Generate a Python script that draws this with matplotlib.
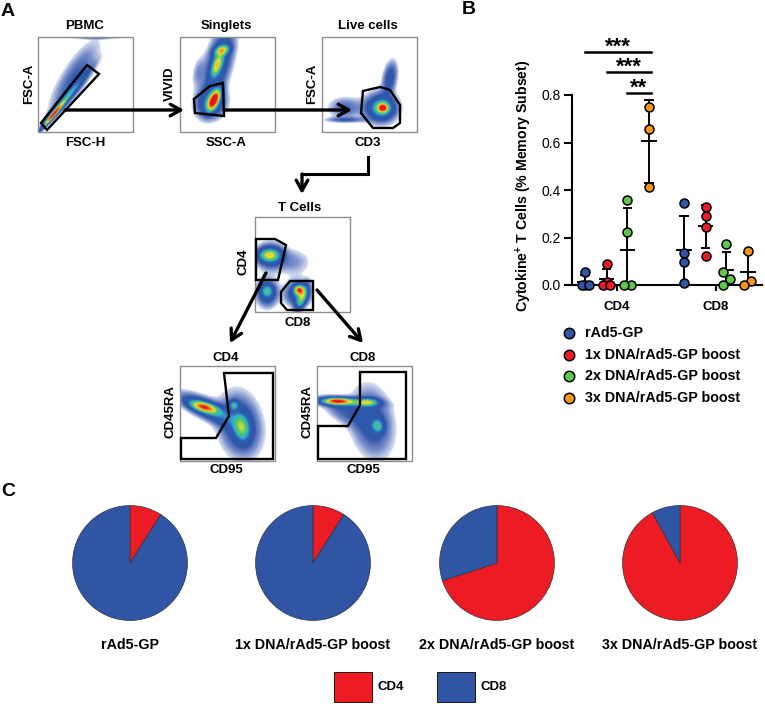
import numpy as np
import matplotlib
matplotlib.use('Agg')
import matplotlib.pyplot as plt
from matplotlib.colors import LinearSegmentedColormap
from matplotlib.patches import Polygon, Rectangle

plt.rcParams['font.family'] = ['Liberation Sans', 'DejaVu Sans']
plt.rcParams['mathtext.fontset'] = 'custom'
plt.rcParams['mathtext.bf'] = 'Liberation Sans:bold'
plt.rcParams['mathtext.rm'] = 'Liberation Sans'

W, H = 765, 704

# panel B
groups = ['rAd5-GP', '1x DNA/rAd5-GP boost', '2x DNA/rAd5-GP boost', '3x DNA/rAd5-GP boost']
group_colors = ['#2f55a4', '#ed1c24', '#5fc74a', '#f7941d']
subsets = ['CD4', 'CD8']
cd4_values = [[0.055, 0, 0, 0], [0.088, 0.012, 0, 0], [0.36, 0.224, 0, 0], [0.75, 0.655, 0.412]]
cd8_values = [[0.345, 0.133, 0.098, 0.008], [0.33, 0.29, 0.243, 0.122], [0.172, 0.053, 0.025, 0.0], [0.143, 0.018, 0.0]]
cd4_means = [0.014, 0.027, 0.147, 0.605]
cd8_means = [0.147, 0.247, 0.063, 0.053]
cd4_sds = [0.027, 0.042, 0.178, 0.175]
cd8_sds = [0.143, 0.09, 0.077, 0.08]
sig_labels = ['***', '***', '**']
sig_from = [0, 1, 2]
sig_heights = [0.981, 0.897, 0.808]

# panel C
cd4_share = [0.09, 0.09, 0.70, 0.92]
pie_colors = ['#ed1c24', '#2f55a4']

# panel A, gates in page pixels
gate_pbmc = [(41, 123), (87, 65), (99, 74), (47, 130)]
gate_singlets = [(194, 99), (210, 86), (223, 83), (224, 116), (195, 113)]
gate_live = [(363, 91), (380, 87), (390, 90), (400, 105), (400, 123), (393, 128), (373, 128), (361, 113)]
gate_cd4 = [(256, 239), (275, 239), (286, 245), (278, 280), (256, 280)]
gate_cd8 = [(281, 292), (290, 281), (313, 281), (313, 310), (287, 310), (281, 303)]
gate_sub4 = [(181, 438), (216, 438), (229, 416), (224, 373), (273, 373), (273, 459), (181, 459)]
gate_sub8 = [(318, 426), (348, 426), (360, 405), (360, 372), (406, 372), (406, 459), (318, 459)]

# boxes: x0, y0, populations (cx, cy, sx, sy, angle, peak)
pop_pbmc = [(53, 115, 11, 1.3, -50, 0.9), (68, 96, 22, 2.6, -50, 0.3), (74, 78, 27, 8, -58, 0.16), (95, 38, 20, 0.8, 0, 0.08)]
pop_singlets = [(222, 50, 5, 3, -20, 0.5), (217, 65, 8, 3, -70, 0.46), (219, 62, 24, 8, -75, 0.3),
                (214, 100, 7, 3, -65, 0.95), (211, 103, 10, 9, -60, 0.32), (198, 72, 10, 4, -80, 0.08)]
pop_live = [(383, 108, 3, 2.5, 0, 0.7), (382, 108, 7, 6, 0, 0.32), (381, 108, 11, 10, 0, 0.27), (345, 108, 11, 7, 0, 0.14),
            (345, 120, 13, 1.8, 0, 0.14), (390, 78, 11, 4.5, -80, 0.22)]
pop_tcells = [(269, 255, 7, 4, 0, 0.42), (270, 256, 9, 8, 0, 0.3), (267, 291, 4, 4, 0, 0.24), (267, 293, 7, 9, 0, 0.27),
              (299, 290, 3, 3, 0, 0.7), (302, 298, 9, 3, -70, 0.4), (298, 294, 8, 8, 0, 0.3), (293, 262, 12, 9, 0, 0.09)]
pop_sub4 = [(204, 407, 9, 3, 15, 0.65), (207, 409, 19, 6, 25, 0.36), (234, 405, 3, 3, 0, 0.32), (242, 428, 9, 5, 80, 0.33),
            (240, 425, 20, 13, 80, 0.27)]
pop_sub8 = [(337, 401, 9, 2, 0, 0.65), (345, 402, 18, 3, 3, 0.4), (368, 402, 7, 2.5, 0, 0.4), (378, 426, 5, 4, 80, 0.3),
            (372, 422, 22, 13, 80, 0.22), (342, 411, 15, 7, 30, 0.13)]

flow_boxes = [(38, 37, pop_pbmc), (180, 37, pop_singlets), (322, 37, pop_live), (255, 217, pop_tcells),
              (180, 366, pop_sub4), (317, 366, pop_sub8)]
gates = [gate_pbmc, gate_singlets, gate_live, gate_cd4, gate_cd8, gate_sub4, gate_sub8]

flow_cmap = LinearSegmentedColormap.from_list('flow', [
    (0.0, '#d5dcef'), (0.05, '#7a90cb'), (0.13, '#2f55a8'), (0.28, '#2f5fb0'), (0.38, '#2fb4d8'), (0.5, '#53c45a'),
    (0.66, '#e8e63c'), (0.82, '#f58a1f'), (1.0, '#e8141c')])
flow_cmap.set_under('white')

fig = plt.figure(figsize=(W / 100, H / 100), dpi=100)
page = fig.add_axes([0, 0, 1, 1])


def density(pops, x0, y0):
    xs, ys = np.meshgrid(np.linspace(x0, x0 + 95, 190), np.linspace(y0, y0 + 95, 190))
    z = np.zeros_like(xs)
    for cx, cy, sx, sy, ang, peak in pops:
        a = np.deg2rad(ang)
        u = (xs - cx) * np.cos(a) + (ys - cy) * np.sin(a)
        v = -(xs - cx) * np.sin(a) + (ys - cy) * np.cos(a)
        z += peak * np.exp(-0.5 * ((u / sx) ** 2 + (v / sy) ** 2))
    return z


for x0, y0, pops in flow_boxes:
    page.imshow(density(pops, x0, y0), extent=(x0, x0 + 95, y0 + 95, y0), cmap=flow_cmap,
                vmin=0.04, vmax=1.0, aspect='auto', interpolation='bilinear', zorder=1)
    page.add_patch(Rectangle((x0, y0), 95, 95, fill=False, ec='#8c8c8c', lw=1, zorder=2))

for g in gates:
    page.add_patch(Polygon(g, closed=True, fill=False, ec='black', lw=1.7, zorder=3))


def arrow(x1, y1, x2, y2):
    page.annotate('', xy=(x2, y2), xytext=(x1, y1), zorder=4,
                  arrowprops=dict(arrowstyle='->,head_length=0.75,head_width=0.42', lw=2.4, color='black',
                                  shrinkA=0, shrinkB=0))


arrow(65, 110, 184, 110)
arrow(224, 110, 352, 110)
page.plot([368, 368, 302], [157, 174, 174], color='black', lw=2.2, solid_joinstyle='miter', zorder=4)
arrow(302, 174, 302, 194)
arrow(266, 273, 230, 343)
arrow(317, 290, 363, 343)


def label(x, y, s, size=9.5, rot=0):
    page.text(x, y, s, fontsize=size, fontweight='bold', rotation=rot, ha='center', va='center')


for x, y, s in [(85, 26, 'PBMC'), (226, 26, 'Singlets'), (368, 26, 'Live cells'), (85, 143, 'FSC-H'), (226, 143, 'SSC-A'),
                (368, 143, 'CD3'), (300, 208, 'T Cells'), (298, 323, 'CD8'), (226, 358, 'CD4'), (363, 358, 'CD8'),
                (226, 470, 'CD95'), (363, 470, 'CD95')]:
    label(x, y, s)
for x, y, s in [(29, 84, 'FSC-A'), (170, 84, 'VIVID'), (312, 84, 'FSC-A'), (244, 262, 'CD4'), (171, 412, 'CD45RA'), (308, 412, 'CD45RA')]:
    label(x, y, s, rot=90)
label(8, 12, 'A', 14)
label(469, 10, 'B', 14)
label(8, 491, 'C', 14)

# panel B legend
for i, g in enumerate(groups):
    y = 333 + i * 21.7
    page.plot([569], [y], 'o', ms=7.5, mfc=group_colors[i], mec='black', mew=1.1, zorder=4)
    page.text(585, y, g, fontsize=10.3, fontweight='bold', va='center')

# panel C labels and legend
for x, g in zip([130, 313, 497, 680], groups):
    label(x, 645, g, 10.3)
page.add_patch(Rectangle((334, 672), 38, 30, fc=pie_colors[0], ec='black', lw=0.6))
page.add_patch(Rectangle((437, 672), 38, 30, fc=pie_colors[1], ec='black', lw=0.6))
page.text(378, 687, 'CD4', fontsize=9.5, fontweight='bold', va='center')
page.text(481, 687, 'CD8', fontsize=9.5, fontweight='bold', va='center')

page.set_xlim(0, W)
page.set_ylim(H, 0)
page.axis('off')

# panel B axes: 572..762 px wide, 95..285 px tall
ax = fig.add_axes([572 / W, 1 - 285 / H, 190 / W, 190 / H])
ax.set_facecolor('none')
ax.set_xlim(-0.4545, 1.4646)
ax.set_ylim(0, 0.8)
offsets = np.array([-0.32, -0.106, 0.106, 0.32])


def swarm(vals, s=0.038, gap=0.03):
    # values come sorted high to low, points that nearly touch get spread sideways
    out = []
    cluster = [vals[0]]
    for v in list(vals[1:]) + [None]:
        if v is not None and cluster[-1] - v < gap:
            cluster.append(v)
            continue
        n = len(cluster)
        if n == 1:
            out += [0]
        elif n == 2:
            out += [s, -s]
        elif cluster[0] - cluster[-1] < 0.02:
            out += [0, -s, s]
        else:
            out += [-s, s, -s]
        cluster = [v]
    return out


for g, (vals_set, means, sds) in enumerate(zip([cd4_values, cd8_values], [cd4_means, cd8_means], [cd4_sds, cd8_sds])):
    for i in range(4):
        x = g + offsets[i]
        lo = max(means[i] - sds[i], 0)
        hi = means[i] + sds[i]
        ax.plot([x, x], [lo, hi], color='black', lw=1.4, zorder=2, clip_on=False)
        ax.plot([x - 0.04, x + 0.04], [hi, hi], color='black', lw=1.4, zorder=2, clip_on=False)
        if means[i] - sds[i] > 0:
            ax.plot([x - 0.04, x + 0.04], [lo, lo], color='black', lw=1.4, zorder=2, clip_on=False)
        ax.plot([x - 0.07, x + 0.07], [means[i], means[i]], color='black', lw=1.4, zorder=2, clip_on=False)
        ax.scatter(x + np.array(swarm(vals_set[i])), vals_set[i], s=42, color=group_colors[i], edgecolor='black',
                   linewidth=1.1, zorder=3, clip_on=False)

for start, h, s in zip(sig_from, sig_heights, sig_labels):
    ax.plot([offsets[start], offsets[3] + 0.02], [h, h], color='black', lw=1.8, clip_on=False)
    ax.text((offsets[start] + offsets[3]) / 2 + 0.01, h - 0.025, s, fontsize=16, fontweight='bold', ha='center', va='bottom')

for side in ['top', 'right']:
    ax.spines[side].set_visible(False)
for side in ['left', 'bottom']:
    ax.spines[side].set_linewidth(1.5)
ax.set_xticks([0, 1])
ax.set_xticklabels(subsets, fontsize=9.5, fontweight='bold')
ax.set_yticks([0, 0.2, 0.4, 0.6, 0.8])
ax.set_yticklabels(['0.0', '0.2', '0.4', '0.6', '0.8'], fontsize=10)
ax.tick_params(axis='y', length=6, width=1.5, pad=2)
ax.tick_params(axis='x', length=4.5, width=1.5, pad=7)
ax.set_ylabel(r'Cytokine$^{\mathbf{+}}$ T Cells (% Memory Subset)', fontsize=10.2, fontweight='bold')
ax.yaxis.set_label_coords((534 - 572) / 190, 0.52)

# panel C pies
for cx, share in zip([130, 313, 497, 680], cd4_share):
    r = 58
    pie_ax = fig.add_axes([(cx - r) / W, 1 - (563 + r) / H, 2 * r / W, 2 * r / H])
    pie_ax.pie([share, 1 - share], colors=pie_colors, startangle=90, counterclock=False, radius=1,
               wedgeprops=dict(edgecolor='#333333', linewidth=0.5))
    pie_ax.set_xlim(-1.01, 1.01)
    pie_ax.set_ylim(-1.01, 1.01)

fig.savefig('out.png', dpi=100)
